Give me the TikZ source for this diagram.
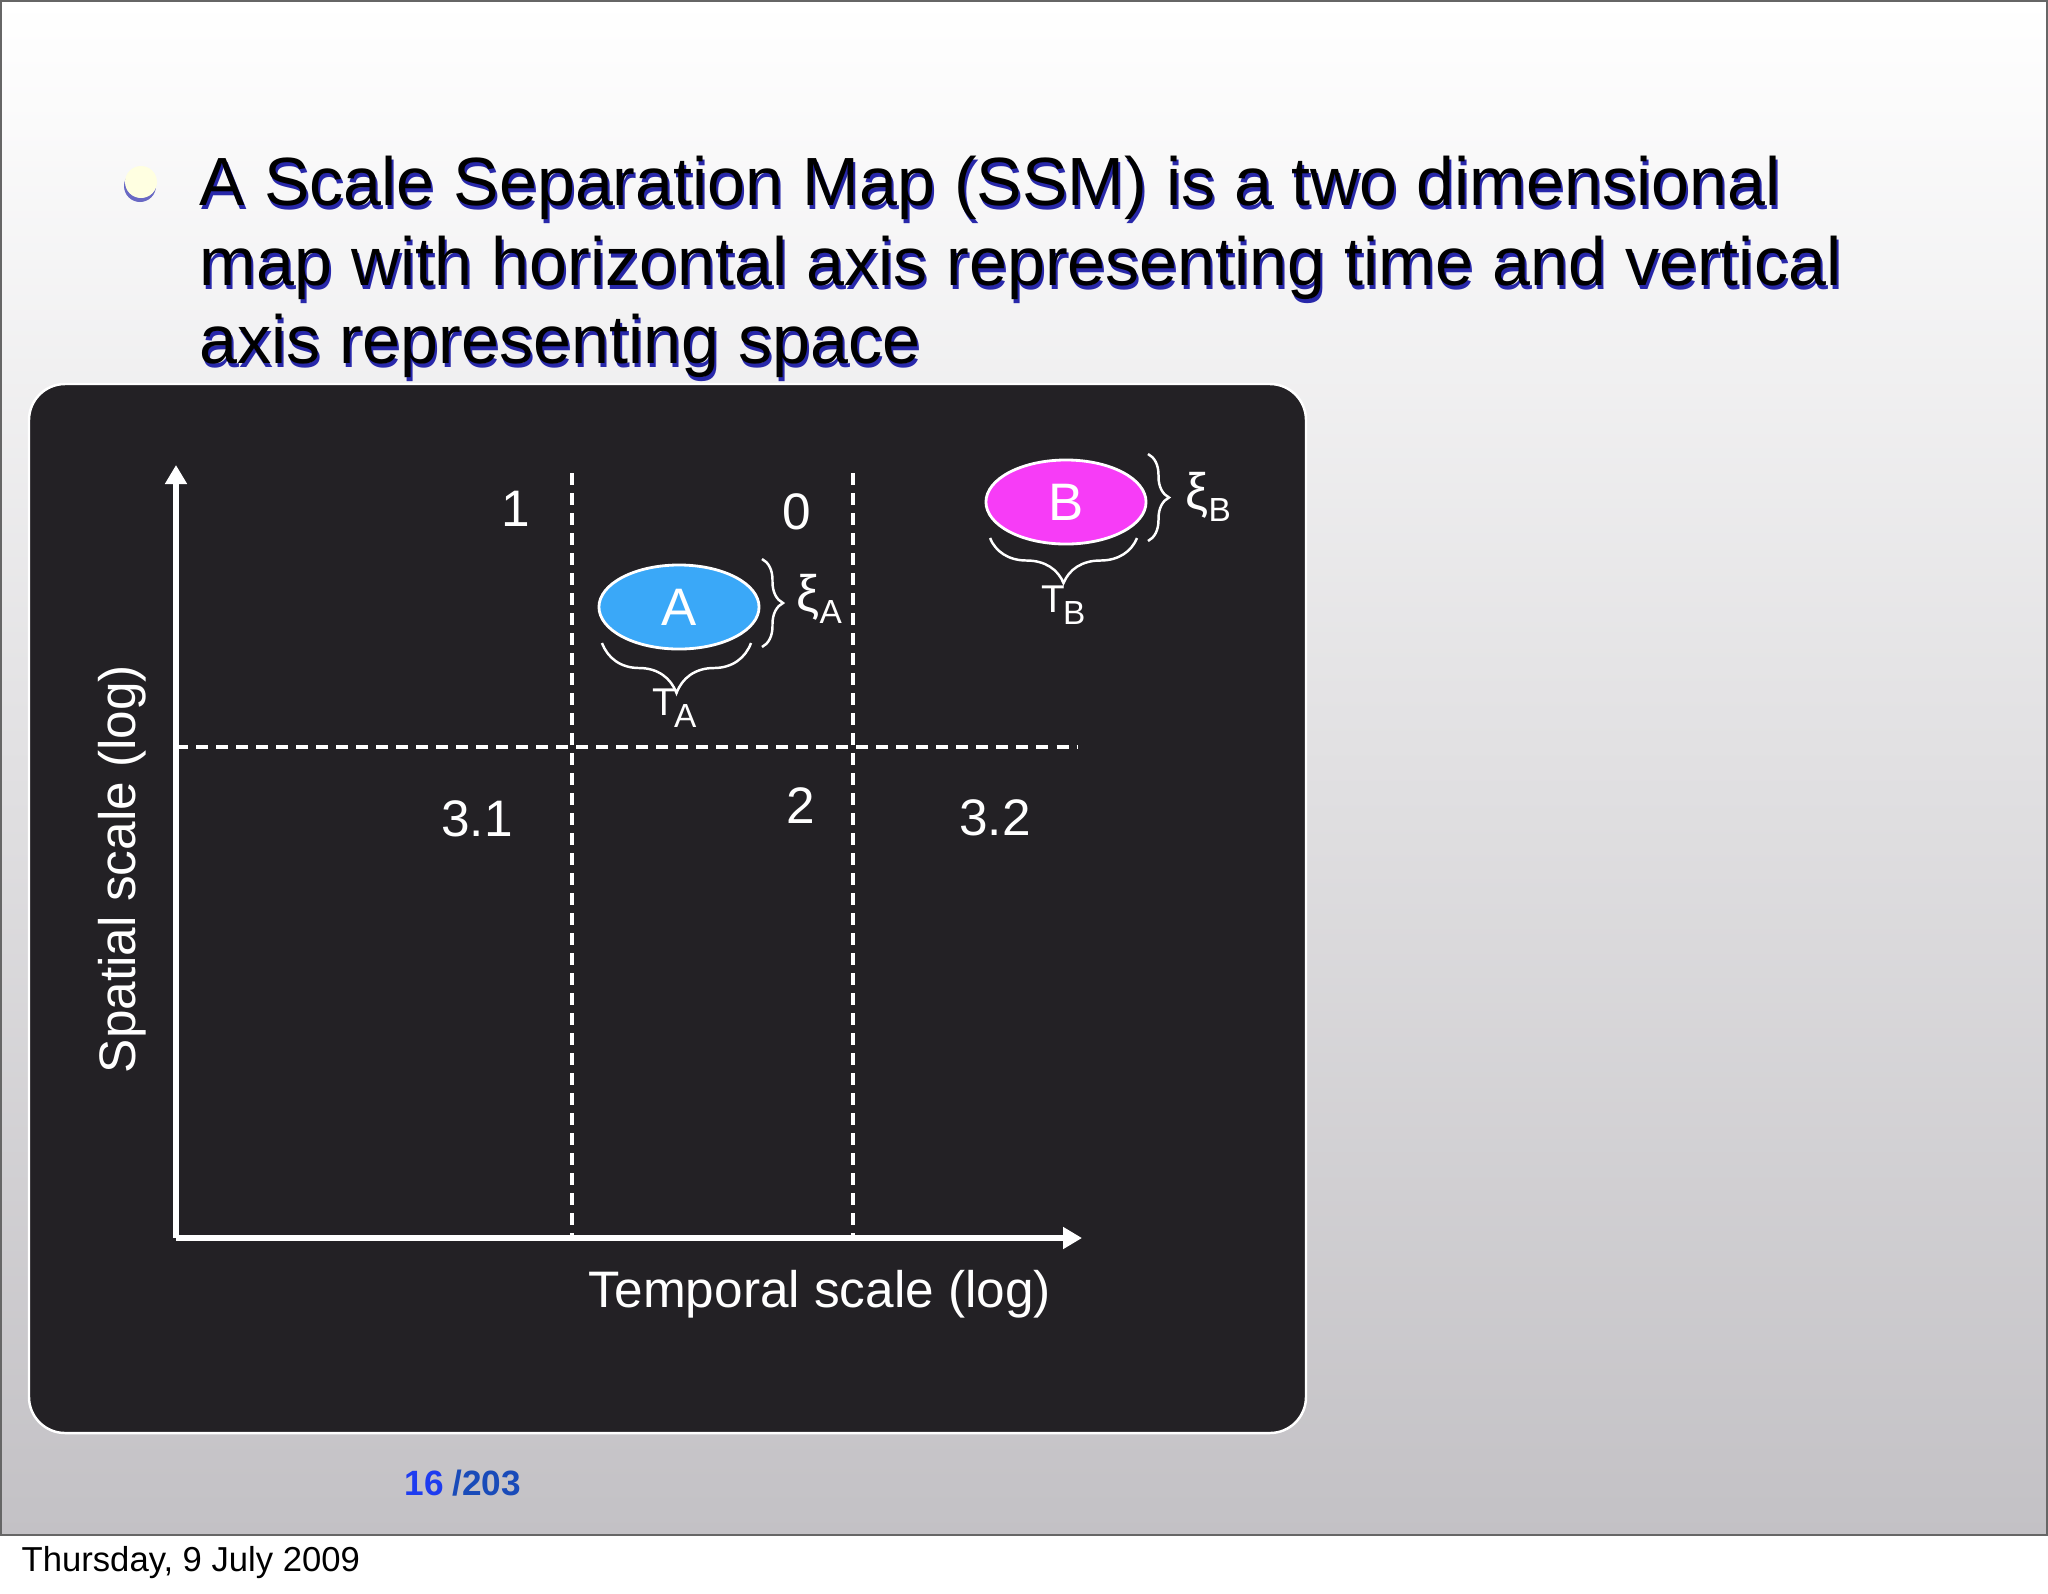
\documentclass[tikz,border=0pt]{standalone}
\usepackage{fontspec}
\setmainfont{Liberation Sans}
\usetikzlibrary{arrows.meta, shapes.geometric, decorations.pathreplacing}

\definecolor{boxgray}{RGB}{35,33,37}
\definecolor{blobblue}{RGB}{58,168,248}
\definecolor{blobpink}{RGB}{247,60,247}
\definecolor{bulletcream}{RGB}{255,255,225}
\definecolor{shadowblue}{RGB}{40,40,170}
\definecolor{slidebottom}{RGB}{195,193,197}
\definecolor{pagenum}{RGB}{30,60,240}
\definecolor{pagetotal}{RGB}{25,75,185}

\newcommand{\lowsub}[2]{\raisebox{-3.6pt}{\fontsize{#1}{#1}\selectfont #2}}

\begin{document}
\begin{tikzpicture}[x=0.01cm, y=-0.01cm,
	titleline/.style={anchor=base west, inner sep=0, font=\fontsize{19.4}{23}\selectfont},
	lbl/.style={text=white, inner sep=0, font=\fontsize{14.6}{17}\selectfont},
	blob/.style={ellipse, draw=white, line width=0.8pt, minimum width=1.6cm,
		minimum height=0.84cm, inner sep=0, text=white, font=\fontsize{15}{17}\selectfont},
	gridline/.style={white, line width=0.95pt, dash pattern=on 0.12cm off 0.08cm},
	axis/.style={white, line width=1.5pt, -{Triangle[length=0.19cm,width=0.21cm]}},
	scalebrace/.style={white, line width=0.7pt, decorate, decoration={brace, amplitude=#1}}]
	\useasboundingbox (0,0) rectangle (2048,1593);
	\fill[white] (0,0) rectangle (2048,1593);
	
	% Slide
	\shade[top color=white, bottom color=slidebottom] (0,0) rectangle (2048,1535);
	\draw[black!60, line width=0.6pt] (1,1) rectangle (2047,1535);
	
	% Bullet and title
	\fill[shadowblue!70] (140,186) circle (16);
	\fill[bulletcream] (141,182) circle (16);
	\foreach \row/\ypos/\txt in {1/205/{A Scale Separation Map (SSM) is a two dimensional},
		2/285/{map with horizontal axis representing time and vertical},
		3/363/{axis representing space}}
	{
		\node[titleline, text=shadowblue] at (201,\ypos+4) {\txt};
		\node[titleline] (title\row) at (199,\ypos) {\txt};
	}
	
	% Map panel
	\draw[white, line width=0.7pt, fill=boxgray, rounded corners=0.36cm] (29,384) rectangle (1306,1433);
	
	% Axes
	\coordinate (origin) at (176,1238);
	\coordinate (ytip) at (176,465);
	\coordinate (xtip) at (1082,1238);
	\draw[axis] (origin) -- (ytip);
	\draw[axis] (origin) -- (xtip);
	\node[lbl, anchor=base] (xlabel) at (820,1307) {Temporal scale (log)};
	\node[lbl, anchor=base, rotate=90] (ylabel) at (135,869) {Spatial scale (log)};
	
	% Region borders
	\foreach \xv in {572,853}
		\draw[gridline] (\xv,473) -- (\xv,1237);
	\draw[gridline] (176,747) -- (1078,747);
	
	% Region numbers
	\foreach \name/\xpos/\ypos/\txt in {r1/516/526/1, r0/797/529/0, r31/477/836/3.1, r2/801/823/2, r32/995/835/3.2}
		\node[lbl, anchor=base] (\name) at (\xpos,\ypos) {\txt};
	
	% Submodels
	\node[blob, fill=blobblue] (ellA) at (679,607) {A};
	\node[blob, fill=blobpink] (ellB) at (1066,502) {B};
	
	% Scales of A
	\draw[scalebrace=0.21cm] (762,559) -- (762,647);
	\draw[scalebrace=0.5cm] (751,643) -- (602,643);
	\node[lbl, anchor=base west] (xiA) at (796,611) {ξ\lowsub{9.5}{A}};
	\node[lbl, anchor=base west, font=\fontsize{11}{13}\selectfont] (tauA) at (652,715) {T\kern-0.6pt\lowsub{9.5}{A}};
	
	% Scales of B
	\draw[scalebrace=0.21cm] (1148,454) -- (1148,541);
	\draw[scalebrace=0.45cm] (1137,538) -- (990,538);
	\node[lbl, anchor=base west] (xiB) at (1185,509) {ξ\lowsub{9.5}{B}};
	\node[lbl, anchor=base west, font=\fontsize{11}{13}\selectfont] (tauB) at (1041,612) {T\kern-0.6pt\lowsub{9.5}{B}};
	
	% Footer
	\node[anchor=base west, inner sep=0, font=\bfseries\fontsize{10}{12}\selectfont] (page) at (404,1495)
		{\textcolor{pagenum}{16}\hspace{2.5pt}\textcolor{pagetotal}{/203}};
	\node[anchor=base west, inner sep=0, font=\fontsize{9.85}{12}\selectfont] (date) at (21,1571) {Thursday, 9 July 2009};
\end{tikzpicture}
\end{document}
